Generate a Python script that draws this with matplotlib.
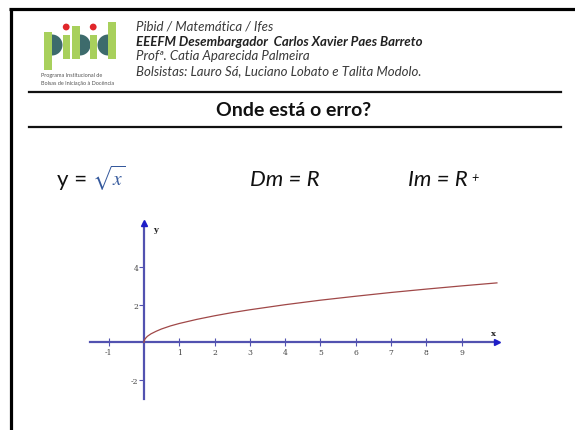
import matplotlib
matplotlib.use("Agg")
import matplotlib.pyplot as plt
from matplotlib.patches import Rectangle, Wedge, Circle
from matplotlib.lines import Line2D

plt.rcParams["mathtext.fontset"] = "stix"

# Header texts
header_lines = [
    "Pibid / Matemática / Ifes",
    "EEEFM Desembargador  Carlos Xavier Paes Barreto",
    "Profª. Catia Aparecida Palmeira",
    "Bolsistas: Lauro Sá, Luciano Lobato e Talita Modolo.",
]
header_bold = [False, True, False, False]
logo_caption = ["Programa Institucional de", "Bolsas de Iniciação à Docência"]
title = "Onde está o erro?"

# Graph data: y = sqrt(x)
curve_x = [0, 0.02, 0.05, 0.1, 0.2, 0.35, 0.5, 0.75, 1, 1.5, 2, 2.5, 3,
           4, 5, 6, 7, 8, 9, 10]
curve_y = [0, 0.14, 0.22, 0.32, 0.45, 0.59, 0.71, 0.87, 1.0, 1.22, 1.41,
           1.58, 1.73, 2.0, 2.24, 2.45, 2.65, 2.83, 3.0, 3.16]
x_ticks = [-1, 1, 2, 3, 4, 5, 6, 7, 8, 9]
y_ticks = [-2, 2, 4]
x_axis_span = (-1.53, 10.0)
y_axis_span = (-3.0, 6.35)

AXIS_COLOR = "#5252b0"
ARROW_COLOR = "#1e1ec8"
CURVE_COLOR = "#a04848"

W, H = 575, 431
fig = plt.figure(figsize=(W / 100, H / 100), dpi=100)
fig.patch.set_facecolor("white")

# Page overlay in pixel coordinates
page = fig.add_axes([0, 0, 1, 1])
page.set_xlim(0, W)
page.set_ylim(H, 0)
page.axis("off")

# Frame (top and left)
page.add_line(Line2D([9, W], [9.5, 9.5], color="black", lw=2.3, solid_capstyle="butt"))
page.add_line(Line2D([10.5, 10.5], [8.5, H], color="black", lw=2.3, solid_capstyle="butt"))

# Logo
LG = "#a8d05c"
TEAL = "#3d6b6c"
RED = "#e0262a"
page.add_patch(Rectangle((44, 33), 8, 38, color=LG, lw=0))
page.add_patch(Wedge((52, 46), 10.5, -90, 90, color=TEAL, lw=0))
page.add_patch(Rectangle((63, 36), 6.5, 24, color=LG, lw=0))
page.add_patch(Circle((66.2, 28), 3.4, color=RED, lw=0))
page.add_patch(Rectangle((72, 27), 8, 33, color=LG, lw=0))
page.add_patch(Wedge((80, 46), 10.5, -90, 90, color=TEAL, lw=0))
page.add_patch(Rectangle((90, 36), 6.5, 24, color=LG, lw=0))
page.add_patch(Circle((93.2, 28), 3.4, color=RED, lw=0))
page.add_patch(Wedge((108, 46), 10.5, 90, 270, color=TEAL, lw=0))
page.add_patch(Rectangle((108, 23), 8, 37, color=LG, lw=0))
for i, cap in enumerate(logo_caption):
    page.text(41, 76 + 8 * i, cap, fontsize=4, color="#555555",
              family="Lato", va="center", ha="left")

# Header text block
for i, (line, bold) in enumerate(zip(header_lines, header_bold)):
    page.text(136, 27 + 14.6 * i, line, fontsize=9.5, family="Lato",
              style="italic", weight="bold" if bold else "normal",
              color="#222222" if bold else "#3a3a3a", va="center", ha="left")

# Rules and title
page.add_line(Line2D([29, 561], [92.5, 92.5], color="#111111", lw=1.6))
page.add_line(Line2D([29, 561], [127.7, 127.7], color="#111111", lw=1.6))
page.text(294, 111, title, fontsize=14, family="Lato", weight="bold",
          color="#111111", ha="center", va="center")

# Formulas
page.text(57, 186, "y = ", fontsize=16, family="Lato", color="#111111",
          ha="left", va="baseline")
page.text(92, 186, r"$\sqrt{x}$", fontsize=14, color="#34589c",
          ha="left", va="baseline")
page.text(250, 186, "Dm = R", fontsize=16, family="Lato", style="italic",
          color="#111111", ha="left", va="baseline")
im_text = page.text(408, 186, "Im = R", fontsize=16, family="Lato",
                    style="italic", color="#111111", ha="left",
                    va="baseline")
page.annotate("+", xy=(1, 1), xycoords=im_text, xytext=(2.5, -1.5),
              textcoords="offset points", fontsize=9, family="Lato",
              style="italic", color="#111111", ha="left", va="top")

# Cartesian graph
ax = fig.add_axes([0.15204, 0.0639, 0.73056, 0.42747])
ax.set_xlim(-1.6, 10.3)
ax.set_ylim(-3.2, 6.6)
ax.patch.set_alpha(0)
for s in ("top", "right"):
    ax.spines[s].set_visible(False)
ax.spines["left"].set_position(("data", 0))
ax.spines["bottom"].set_position(("data", 0))
ax.spines["bottom"].set_bounds(*x_axis_span)
ax.spines["left"].set_bounds(*y_axis_span)
for s in ("left", "bottom"):
    ax.spines[s].set_color(AXIS_COLOR)
    ax.spines[s].set_linewidth(1.6)

ax.set_xticks(x_ticks)
ax.set_xticklabels([str(t) for t in x_ticks])
ax.set_yticks(y_ticks)
ax.set_yticklabels([str(t) for t in y_ticks])
ax.tick_params(axis="x", direction="inout", length=6, width=0.8,
               color=AXIS_COLOR, labelsize=5.5, pad=1, labelcolor="#444444")
ax.tick_params(axis="y", direction="out", length=3.5, width=0.8,
               color=AXIS_COLOR, labelsize=5.5, pad=0.5, labelcolor="#444444")
for lab in ax.get_xticklabels() + ax.get_yticklabels():
    lab.set_family("DejaVu Serif")

ax.plot(curve_x, curve_y, color=CURVE_COLOR, lw=0.9, zorder=3)

# Axis arrowheads and names
ax.plot([x_axis_span[1]], [0], marker=">", ms=5, color=ARROW_COLOR,
        clip_on=False, zorder=4)
ax.plot([0], [y_axis_span[1]], marker="^", ms=5, color=ARROW_COLOR,
        clip_on=False, zorder=4)
ax.text(x_axis_span[1] - 0.1, 0.3, "x", fontsize=6, family="DejaVu Serif",
        weight="bold", color="#222222", ha="center", va="bottom")
ax.text(0.25, y_axis_span[1] - 0.3, "y", fontsize=6, family="DejaVu Serif",
        weight="bold", color="#222222", ha="left", va="center")

fig.savefig("out.png", dpi=100, facecolor="white")
